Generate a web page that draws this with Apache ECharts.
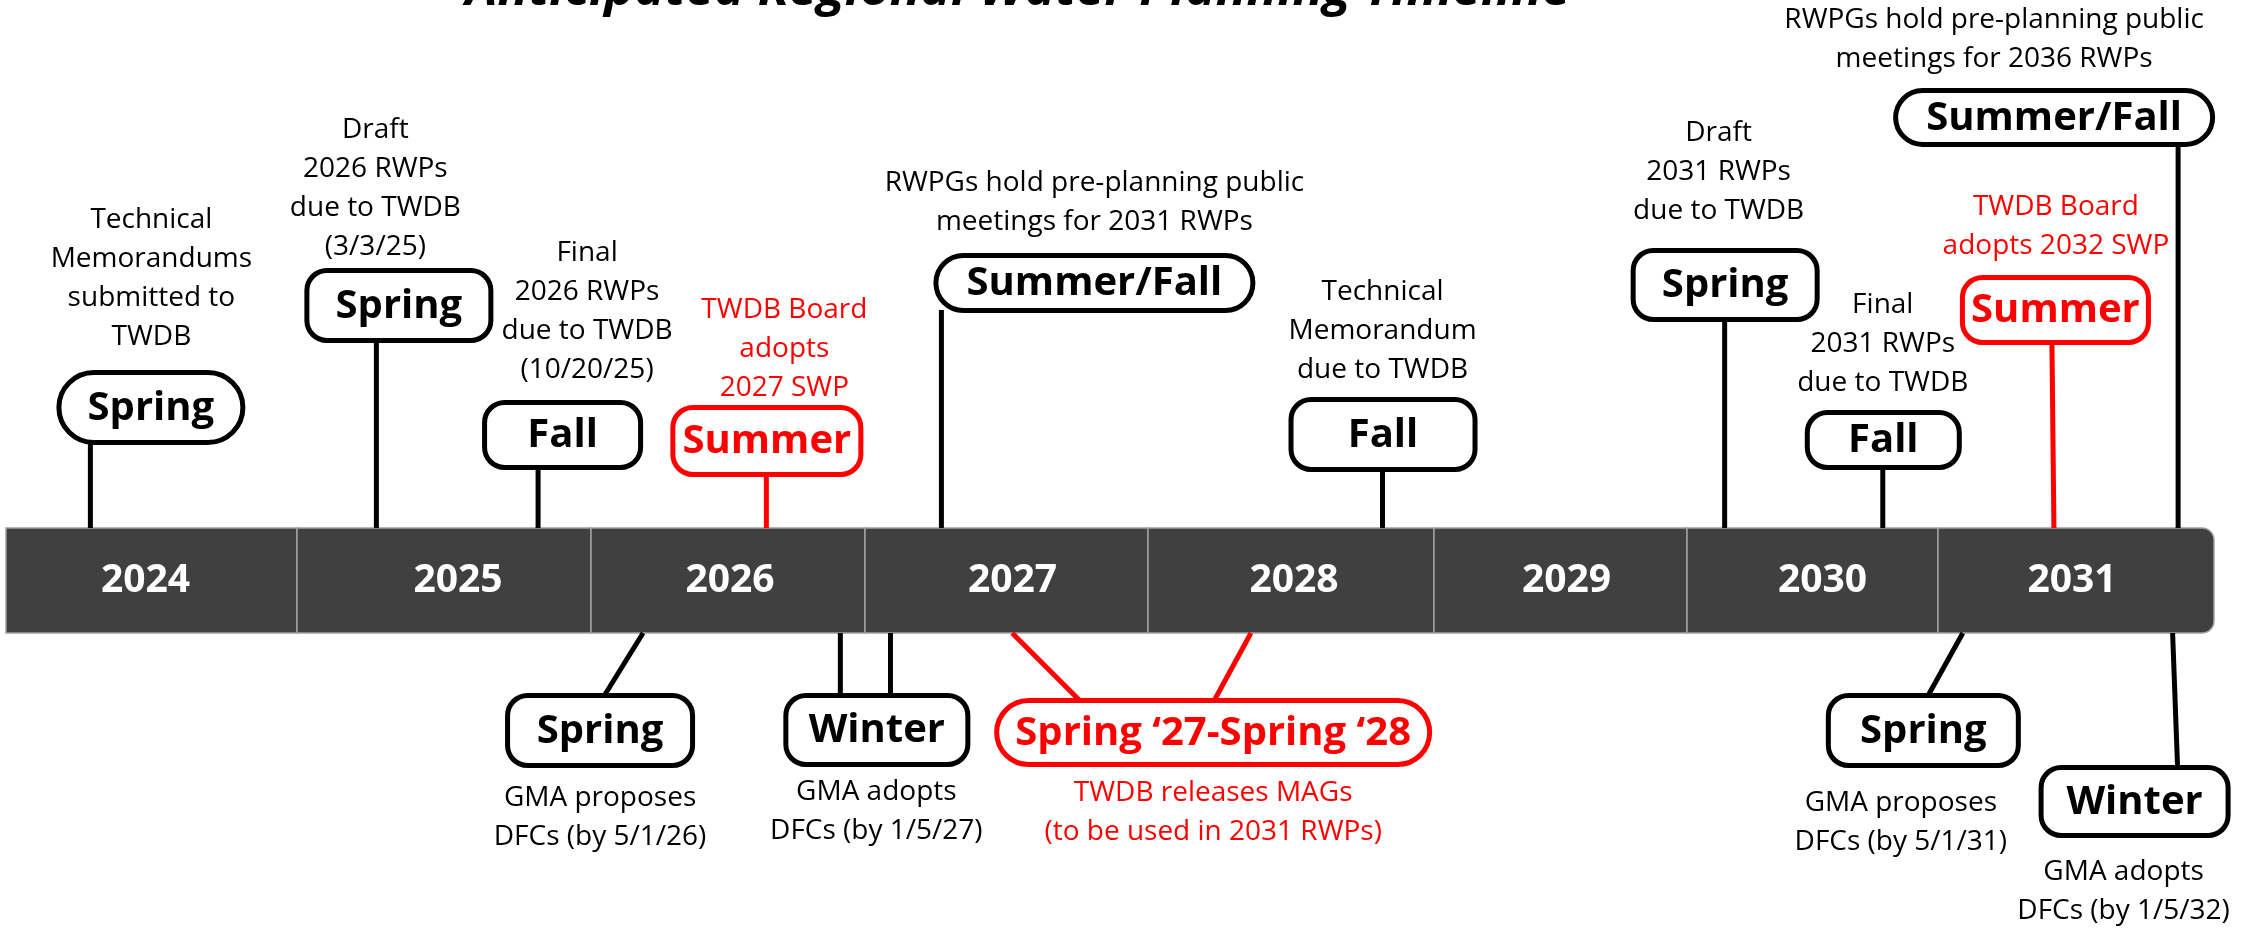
<!DOCTYPE html>
<html>
<head>
<meta charset="utf-8">
<script src="https://cdn.jsdelivr.net/npm/echarts@6/dist/echarts.min.js"></script>
<style>
html,body{margin:0;padding:0;background:#ffffff;}
#chart{width:2242px;height:930px;}
</style>
</head>
<body>
<div id="chart"></div>
<script>
// ---------------- DATA ----------------
const chartTitle = 'Anticipated Regional Water Planning Timeline';
const years = [2024, 2025, 2026, 2027, 2028, 2029, 2030, 2031];

// fractional-year position of each milestone on the timeline
const eventDate = [2024.29, 2025.27, 2025.82, 2026.64, 2027.27, 2028.82, 2030.15, 2030.78, 2031.42, 2031.87,
                   2026.19, 2026.91, 2027.52, 2031.09, 2031.85];
// second end of a milestone that spans a period (null when single point)
const eventEndDate = [null, null, null, null, null, null, null, null, null, null,
                      null, 2027.09, 2028.36, null, null];
const eventSeason = ['Spring', 'Spring', 'Fall', 'Summer', 'Summer/Fall', 'Fall', 'Spring', 'Fall', 'Summer', 'Summer/Fall',
                     'Spring', 'Winter', 'Spring \u201827-Spring \u201828', 'Spring', 'Winter'];
const eventNote = [
  'Technical\nMemorandums\nsubmitted to\nTWDB',
  'Draft\n2026 RWPs\ndue to TWDB\n(3/3/25)',
  'Final\n2026 RWPs\ndue to TWDB\n(10/20/25)',
  'TWDB Board\nadopts\n2027 SWP',
  'RWPGs hold pre-planning public\nmeetings for 2031 RWPs',
  'Technical\nMemorandum\ndue to TWDB',
  'Draft\n2031 RWPs\ndue to TWDB',
  'Final\n2031 RWPs\ndue to TWDB',
  'TWDB Board\nadopts 2032 SWP',
  'RWPGs hold pre-planning public\nmeetings for 2036 RWPs',
  'GMA proposes\nDFCs (by 5/1/26)',
  'GMA adopts\nDFCs (by 1/5/27)',
  'TWDB releases MAGs\n(to be used in 2031 RWPs)',
  'GMA proposes\nDFCs (by 5/1/31)',
  'GMA adopts\nDFCs (by 1/5/32)'
];
const eventActor = ['RWPG', 'RWPG', 'RWPG', 'TWDB', 'RWPG', 'RWPG', 'RWPG', 'RWPG', 'TWDB', 'RWPG',
                    'GMA', 'GMA', 'TWDB', 'GMA', 'GMA'];

// ---------------- LAYOUT / STYLE ----------------
const blockEdges = [6, 297, 591, 865, 1148, 1434, 1687, 1938, 2214]; // year blocks on screen
const yearLabelDx = [-6, 14, 2, 6, 3, 6, 10, -4];
const BAR_TOP = 528, BAR_H = 105;
const BLACK = '#000000', RED = '#ff0000', BAR = '#404040';
const FONT = '"Open Sans", "Noto Sans", sans-serif';
const LINE_H = 39;
// callout geometry relative to the milestone's point on the bar
const calloutLayout = [
  {side: 'top', dx: 60.5, w: 189, top: 370, h: 75, r: 37, noteDx: 61, noteY: 220, legDx: 0},
  {side: 'top', dx: 22.5, w: 189, top: 268, h: 75, r: 20, noteDx: -1, noteY: 130, legDx: 0},
  {side: 'top', dx: 24.5, w: 161, top: 400, h: 70, r: 20, noteDx: 49, noteY: 253, legDx: 0},
  {side: 'top', dx: 0.5, w: 193, top: 405, h: 72, r: 20, noteDx: 18, noteY: 310, legDx: 0},
  {side: 'top', dx: 153, w: 322, top: 253, h: 60, r: 30, noteDx: 153, noteY: 183, legDx: 0},
  {side: 'top', dx: 0.5, w: 189, top: 397, h: 75, r: 20, noteDx: 0, noteY: 292, legDx: 0},
  {side: 'top', dx: 0.5, w: 189, top: 248, h: 74, r: 20, noteDx: -6, noteY: 133, legDx: 0},
  {side: 'top', dx: 0.5, w: 157, top: 410, h: 60, r: 20, noteDx: 0, noteY: 305, legDx: 0},
  {side: 'top', dx: 1.5, w: 191, top: 275, h: 70, r: 20, noteDx: 2, noteY: 207, legDx: -2},
  {side: 'top', dx: -124, w: 322, top: 88, h: 59, r: 30, noteDx: -184, noteY: 20, legDx: 0},
  {side: 'bottom', dx: -43, w: 190, top: 693, h: 75, r: 20, noteDx: -43, noteY: 798, legDx: -39},
  {side: 'bottom', dx: 36.5, w: 187, top: 693, h: 74, r: 20, noteDx: 36, noteY: 792, legDx: 0, leg2Dx: 0},
  {side: 'bottom', dx: 201, w: 438, top: 698, h: 69, r: 32, noteDx: 201, noteY: 793, legDx: 68, leg2Dx: -37},
  {side: 'bottom', dx: -39.5, w: 195, top: 693, h: 75, r: 20, noteDx: -62, noteY: 803, legDx: -35},
  {side: 'bottom', dx: -38, w: 192, top: 765, h: 73, r: 20, noteDx: -49, noteY: 872, legDx: 5}
];

function colorOf(i) { return eventActor[i] === 'TWDB' ? RED : BLACK; }

function renderBlock(params, api) {
  const yr = api.value(0);
  const i = years.indexOf(yr);
  const p0 = api.coord([yr, 1]);
  const p1 = api.coord([yr + 1, 0]);
  const last = i === years.length - 1;
  return {
    type: 'group',
    children: [
      {type: 'rect', shape: {x: p0[0], y: p0[1], width: p1[0] - p0[0], height: p1[1] - p0[1], r: last ? [0, 12, 12, 0] : 0},
       style: {fill: BAR, stroke: '#a0a0a0', lineWidth: 1.5}},
      {type: 'text', style: {text: String(yr), x: (p0[0] + p1[0]) / 2 + yearLabelDx[i], y: (p0[1] + p1[1]) / 2,
        align: 'center', verticalAlign: 'middle', fontFamily: FONT, fontWeight: 'bold', fontSize: 39, fill: '#ffffff'}}
    ]
  };
}

function renderEvent(params, api) {
  const date = api.value(0), idx = api.value(1);
  const L = calloutLayout[idx];
  const col = colorOf(idx);
  const above = L.side === 'top';
  const p = api.coord([date, above ? 1 : 0]);
  const ax = p[0];
  const cx = ax + L.dx;
  const yEnd = above ? L.top + L.h - 3 : L.top + 3;
  return {
    type: 'group',
    children: [
      {type: 'line', shape: {x1: ax, y1: p[1], x2: ax + L.legDx, y2: yEnd}, style: {stroke: col, lineWidth: 5}},
      {type: 'rect', shape: {x: cx - L.w / 2 + 2.5, y: L.top + 2.5, width: L.w - 5, height: L.h - 5, r: L.r},
       style: {fill: '#ffffff', stroke: col, lineWidth: 5}},
      {type: 'text', style: {text: eventSeason[idx], x: cx, y: L.top + L.h / 2 + 1, align: 'center', verticalAlign: 'middle',
        fontFamily: FONT, fontWeight: 'bold', fontSize: 40, fill: col}},
      {type: 'text', style: {text: eventNote[idx], x: ax + L.noteDx, y: L.noteY - LINE_H / 2, align: 'center', verticalAlign: 'top',
        fontFamily: FONT, fontSize: 28, lineHeight: LINE_H, fill: col}}
    ]
  };
}

function renderLeg(params, api) {
  const date = api.value(0), idx = api.value(1);
  const L = calloutLayout[idx];
  const p = api.coord([date, 0]);
  return {type: 'line', shape: {x1: p[0], y1: p[1], x2: p[0] + L.leg2Dx, y2: L.top + 3},
          style: {stroke: colorOf(idx), lineWidth: 5}};
}

const grids = [], xAxes = [], yAxes = [], series = [];
years.forEach((yr, i) => {
  grids.push({left: blockEdges[i], width: blockEdges[i + 1] - blockEdges[i], top: BAR_TOP, height: BAR_H, containLabel: false});
  xAxes.push({gridIndex: i, type: 'value', min: yr, max: yr + 1, show: false});
  yAxes.push({gridIndex: i, type: 'value', min: 0, max: 1, show: false});
});
years.forEach((yr, i) => {
  series.push({type: 'custom', xAxisIndex: i, yAxisIndex: i, clip: false, silent: true, z: 1,
               data: [[yr]], renderItem: renderBlock});
});
years.forEach((yr, i) => {
  const evs = eventDate.map((d, k) => [d, k]).filter(e => Math.floor(e[0]) === yr);
  if (evs.length) series.push({type: 'custom', xAxisIndex: i, yAxisIndex: i, clip: false, silent: true, z: 2,
                               data: evs, renderItem: renderEvent});
  const legs = eventEndDate.map((d, k) => [d, k]).filter(e => e[0] !== null && Math.floor(e[0]) === yr);
  if (legs.length) series.push({type: 'custom', xAxisIndex: i, yAxisIndex: i, clip: false, silent: true, z: 2,
                                data: legs, renderItem: renderLeg});
});

const chart = echarts.init(document.getElementById('chart'), null, {renderer: 'canvas'});
chart.setOption({
  animation: false,
  backgroundColor: '#ffffff',
  graphic: [{
    type: 'text', x: 1018, y: -10, silent: true,
    style: {text: chartTitle, align: 'center', verticalAlign: 'middle', fontFamily: FONT, fontWeight: 'bold',
            fontStyle: 'italic', fontSize: 51, fill: '#000000'}
  }],
  grid: grids,
  xAxis: xAxes,
  yAxis: yAxes,
  series: series
});
</script>
</body>
</html>
